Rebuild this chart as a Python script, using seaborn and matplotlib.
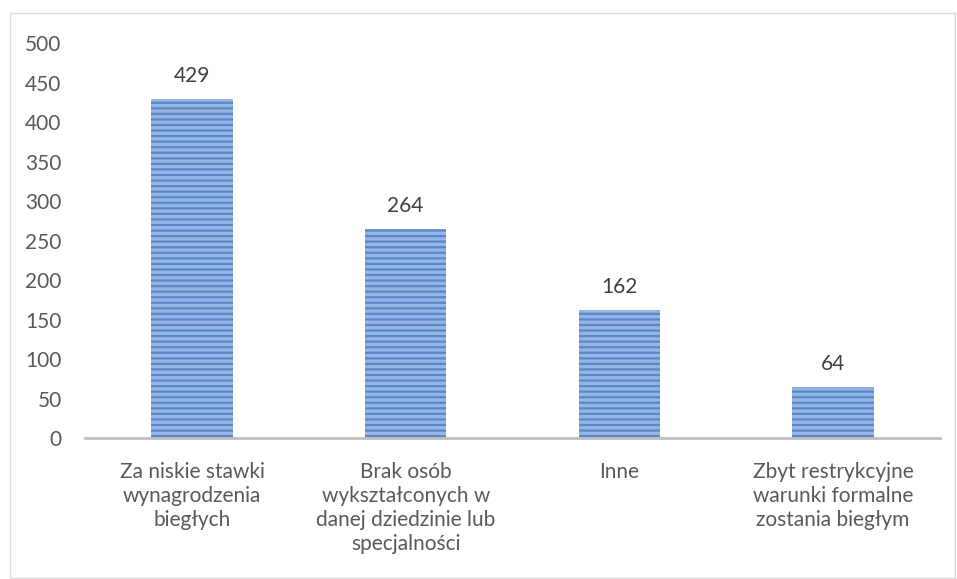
import matplotlib.pyplot as plt
import matplotlib.patches as mpatches
import pandas as pd
import seaborn as sns

# Data
categories = [
    'Za niskie stawki\nwynagrodzenia\nbiegłych',
    'Brak osób\nwykształconych w\ndanej dziedzinie lub\nspecjalności',
    'Inne',
    'Zbyt restrykcyjne\nwarunki formalne\nzostania biegłym',
]
values = [429, 264, 162, 64]
yticks = [0, 50, 100, 150, 200, 250, 300, 350, 400, 450, 500]

df = pd.DataFrame({'cat': categories, 'val': values})

sns.set_style('white')
plt.rcParams['font.family'] = ['Lato', 'DejaVu Sans']
plt.rcParams['hatch.linewidth'] = 1.6

fig = plt.figure(figsize=(9.57, 5.79), dpi=100)
ax = fig.add_axes([0.089, 0.2435, 0.893, 0.6822])

sns.barplot(x='cat', y='val', data=df, color='#95b5e3', width=0.38,
            saturation=1, ax=ax)

# striped fill like the original
for bar in ax.patches:
    bar.set_hatch('---')
    bar.set_edgecolor('#5a87cc')
    bar.set_linewidth(0)

# value labels
for i, v in enumerate(values):
    ax.text(i, v + 17, str(v), ha='center', va='bottom', fontsize=15, color='#404040')

ax.set_ylim(0, 500)
ax.set_yticks(yticks)
ax.set_xlim(-0.5, len(categories) - 0.5)
ax.set_xlabel('')
ax.set_ylabel('')
ax.tick_params(axis='y', labelsize=15, colors='#595959', length=0, pad=17)
ax.tick_params(axis='x', labelsize=15, colors='#595959', length=0, pad=17)
for lbl in ax.get_xticklabels():
    lbl.set_linespacing(1.25)
    lbl.set_va('top')

for s in ['left', 'right', 'top']:
    ax.spines[s].set_visible(False)
ax.spines['bottom'].set_color('#bfbfbf')
ax.spines['bottom'].set_linewidth(2)

# chart border
fig.patches.append(mpatches.Rectangle((10 / 957, 1 / 579), 945 / 957, 565 / 579,
                                      transform=fig.transFigure, fill=False,
                                      edgecolor='#d9d9d9', linewidth=1))

fig.savefig('out.png', dpi=100)
